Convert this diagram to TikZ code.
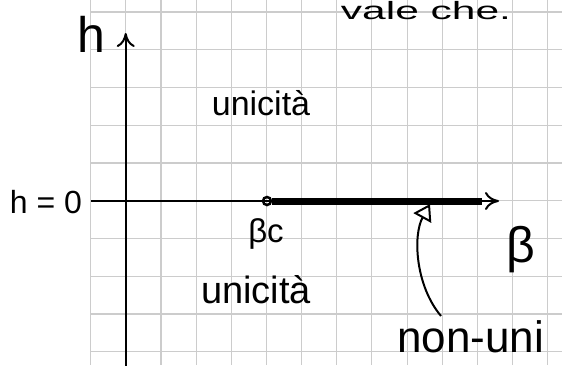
\documentclass[tikz,border=0pt]{standalone}
\usepackage{fontspec}
\usepackage{graphicx}
\setmainfont{Liberation Sans}
\usetikzlibrary{arrows.meta}
\tikzset{
  gridline/.style={draw=black!20, line width=1.1pt},
  axisline/.style={line width=2pt, -{To[length=14pt,width=18pt,line width=2pt]}},
  hand/.style={inner sep=0pt, text=black},
  bigline/.style={line width=7pt},
}
\begin{document}
\begin{tikzpicture}[x=1pt,y=-1pt]
\useasboundingbox (0,0) rectangle (562,365);
\clip (0,0) rectangle (562,365);
\fill[white] (0,0) rectangle (562,365);
% grid
\foreach \k in {0,...,13} {\draw[gridline] ({90.7+35.15*\k},0) -- ({90.7+35.15*\k},365);}
\foreach \k in {0,...,9} {\draw[gridline] (90.7,{12+37.75*\k}) -- (562,{12+37.75*\k});}
% axes
\coordinate (vbot) at (125.7,370);
\coordinate (vtop) at (125.7,33);
\coordinate (hleft) at (91,201);
\coordinate (hright) at (499,201);
\draw[axisline] (vbot) -- (vtop);
\draw[axisline] (hleft) -- (hright);
% thick segment
\node[circle, draw, line width=2.5pt, minimum size=8pt, inner sep=0pt] (bc) at (267,201) {};
\coordinate (segend) at (482,201);
\draw[bigline] (bc.east) -- (segend);
% curved arrow
\coordinate (arrstart) at (441,316);
\coordinate (arrtip) at (430,204);
\draw[line width=2pt, -{Triangle[open,length=16pt,width=20pt,line width=2pt]}] (arrstart) .. controls (415,285) and (413,235) .. (arrtip);
% texts
\node[hand, font=\fontsize{50}{50}\selectfont] (hlab) at (91,34) {h};
\node[hand, font=\fontsize{25}{25}\selectfont, anchor=base] (vale) at (426,19) {\scalebox{1.7}[1]{vale che.}};
\node[hand, font=\fontsize{34}{34}\selectfont] (uniup) at (261,103) {unicità};
\node[hand, font=\fontsize{32}{32}\selectfont] (hzero) at (46,202) {h = 0};
\node[hand, font=\fontsize{33}{33}\selectfont] (betac) at (266,234) {βc};
\node[hand, font=\fontsize{50}{50}\selectfont, anchor=west] (beta) at (506,250) {β};
\node[hand, font=\fontsize{38}{38}\selectfont] (unilow) at (256,290) {unicità};
\node[hand, font=\fontsize{44}{44}\selectfont, anchor=west] (nonuni) at (397,337) {non-uni};
\end{tikzpicture}
\end{document}
